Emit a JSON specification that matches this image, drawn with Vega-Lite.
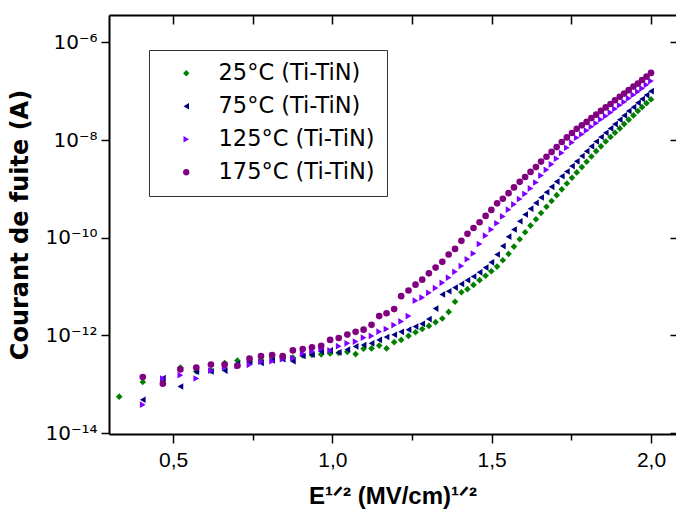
{
  "$schema": "https://vega.github.io/schema/vega-lite/v6.json",
  "width": 567,
  "height": 419,
  "autosize": {"type": "none"},
  "padding": {"left": 109, "top": 15, "right": 0, "bottom": 81},
  "config": {
    "view": {"stroke": null},
    "axis": {"grid": false, "domainColor": "black", "tickColor": "black", "labelColor": "black", "titleColor": "black", "domainWidth": 2, "tickWidth": 1.5},
    "legend": {"strokeColor": "#333333", "fillColor": "white", "padding": 12, "rowPadding": 10, "symbolOffset": 14, "labelOffset": 21, "labelFont": "DejaVu Sans", "labelFontSize": 22.5, "labelColor": "black", "symbolSize": 40, "strokeWidth": 1}
  },
  "data": {"values": [
    {"T":"25","x":0.331,"I":5.55e-14},{"T":"25","x":0.405,"I":1.11e-13},{"T":"25","x":0.468,"I":1.17e-13},{"T":"25","x":0.523,"I":2.20e-13},{"T":"25","x":0.573,"I":1.83e-13},{"T":"25","x":0.619,"I":1.90e-13},{"T":"25","x":0.662,"I":2.72e-13},{"T":"25","x":0.702,"I":3.03e-13},{"T":"25","x":0.740,"I":2.87e-13},{"T":"25","x":0.776,"I":3.13e-13},{"T":"25","x":0.811,"I":3.43e-13},{"T":"25","x":0.844,"I":3.40e-13},{"T":"25","x":0.876,"I":3.52e-13},{"T":"25","x":0.907,"I":3.88e-13},{"T":"25","x":0.936,"I":3.96e-13},{"T":"25","x":0.965,"I":4.09e-13},{"T":"25","x":0.993,"I":4.25e-13},{"T":"25","x":1.020,"I":4.36e-13},{"T":"25","x":1.047,"I":4.60e-13},{"T":"25","x":1.073,"I":4.13e-13},{"T":"25","x":1.098,"I":5.34e-13},{"T":"25","x":1.123,"I":5.40e-13},{"T":"25","x":1.147,"I":6.18e-13},{"T":"25","x":1.170,"I":5.40e-13},{"T":"25","x":1.194,"I":7.25e-13},{"T":"25","x":1.216,"I":8.07e-13},{"T":"25","x":1.239,"I":9.73e-13},{"T":"25","x":1.261,"I":1.16e-12},{"T":"25","x":1.282,"I":1.35e-12},{"T":"25","x":1.303,"I":1.56e-12},{"T":"25","x":1.324,"I":1.86e-12},{"T":"25","x":1.345,"I":2.21e-12},{"T":"25","x":1.365,"I":3.02e-12},{"T":"25","x":1.385,"I":4.88e-12},{"T":"25","x":1.405,"I":7.62e-12},{"T":"25","x":1.424,"I":8.83e-12},{"T":"25","x":1.443,"I":1.08e-11},{"T":"25","x":1.462,"I":1.35e-11},{"T":"25","x":1.481,"I":1.66e-11},{"T":"25","x":1.499,"I":2.05e-11},{"T":"25","x":1.517,"I":2.56e-11},{"T":"25","x":1.535,"I":3.45e-11},{"T":"25","x":1.553,"I":4.65e-11},{"T":"25","x":1.570,"I":6.56e-11},{"T":"25","x":1.588,"I":9.29e-11},{"T":"25","x":1.605,"I":1.29e-10},{"T":"25","x":1.622,"I":1.77e-10},{"T":"25","x":1.639,"I":2.38e-10},{"T":"25","x":1.655,"I":3.20e-10},{"T":"25","x":1.672,"I":4.31e-10},{"T":"25","x":1.688,"I":5.65e-10},{"T":"25","x":1.704,"I":7.43e-10},{"T":"25","x":1.720,"I":9.77e-10},{"T":"25","x":1.736,"I":1.29e-9},{"T":"25","x":1.752,"I":1.69e-9},{"T":"25","x":1.767,"I":2.17e-9},{"T":"25","x":1.783,"I":2.79e-9},{"T":"25","x":1.798,"I":3.58e-9},{"T":"25","x":1.813,"I":4.60e-9},{"T":"25","x":1.828,"I":5.91e-9},{"T":"25","x":1.843,"I":7.43e-9},{"T":"25","x":1.858,"I":9.34e-9},{"T":"25","x":1.873,"I":1.15e-8},{"T":"25","x":1.887,"I":1.41e-8},{"T":"25","x":1.902,"I":1.73e-8},{"T":"25","x":1.916,"I":2.12e-8},{"T":"25","x":1.930,"I":2.61e-8},{"T":"25","x":1.945,"I":3.19e-8},{"T":"25","x":1.959,"I":3.92e-8},{"T":"25","x":1.972,"I":4.71e-8},{"T":"25","x":1.986,"I":5.65e-8},{"T":"25","x":2.000,"I":6.79e-8},
    {"T":"75","x":0.405,"I":4.80e-14},{"T":"75","x":0.468,"I":1.33e-13},{"T":"75","x":0.523,"I":8.97e-14},{"T":"75","x":0.573,"I":1.80e-13},{"T":"75","x":0.619,"I":1.83e-13},{"T":"75","x":0.662,"I":1.90e-13},{"T":"75","x":0.702,"I":2.62e-13},{"T":"75","x":0.740,"I":2.87e-13},{"T":"75","x":0.776,"I":2.72e-13},{"T":"75","x":0.811,"I":3.08e-13},{"T":"75","x":0.844,"I":3.25e-13},{"T":"75","x":0.876,"I":2.96e-13},{"T":"75","x":0.907,"I":3.81e-13},{"T":"75","x":0.936,"I":4.02e-13},{"T":"75","x":0.965,"I":4.65e-13},{"T":"75","x":0.993,"I":4.91e-13},{"T":"75","x":1.020,"I":4.48e-13},{"T":"75","x":1.047,"I":5.12e-13},{"T":"75","x":1.073,"I":5.94e-13},{"T":"75","x":1.098,"I":6.34e-13},{"T":"75","x":1.123,"I":6.87e-13},{"T":"75","x":1.147,"I":8.07e-13},{"T":"75","x":1.170,"I":9.23e-13},{"T":"75","x":1.194,"I":1.03e-12},{"T":"75","x":1.216,"I":1.18e-12},{"T":"75","x":1.239,"I":1.31e-12},{"T":"75","x":1.261,"I":1.51e-12},{"T":"75","x":1.282,"I":1.72e-12},{"T":"75","x":1.303,"I":2.15e-12},{"T":"75","x":1.324,"I":3.53e-12},{"T":"75","x":1.345,"I":6.90e-12},{"T":"75","x":1.365,"I":8.00e-12},{"T":"75","x":1.385,"I":9.51e-12},{"T":"75","x":1.405,"I":1.13e-11},{"T":"75","x":1.424,"I":1.35e-11},{"T":"75","x":1.443,"I":1.60e-11},{"T":"75","x":1.462,"I":1.95e-11},{"T":"75","x":1.481,"I":2.44e-11},{"T":"75","x":1.499,"I":3.13e-11},{"T":"75","x":1.517,"I":4.53e-11},{"T":"75","x":1.535,"I":6.73e-11},{"T":"75","x":1.553,"I":1.05e-10},{"T":"75","x":1.570,"I":1.47e-10},{"T":"75","x":1.588,"I":2.17e-10},{"T":"75","x":1.605,"I":2.99e-10},{"T":"75","x":1.622,"I":3.93e-10},{"T":"75","x":1.639,"I":5.16e-10},{"T":"75","x":1.655,"I":6.64e-10},{"T":"75","x":1.672,"I":8.53e-10},{"T":"75","x":1.688,"I":1.10e-9},{"T":"75","x":1.704,"I":1.41e-9},{"T":"75","x":1.720,"I":1.81e-9},{"T":"75","x":1.736,"I":2.27e-9},{"T":"75","x":1.752,"I":2.92e-9},{"T":"75","x":1.767,"I":3.66e-9},{"T":"75","x":1.783,"I":4.71e-9},{"T":"75","x":1.798,"I":5.91e-9},{"T":"75","x":1.813,"I":7.43e-9},{"T":"75","x":1.828,"I":9.34e-9},{"T":"75","x":1.843,"I":1.15e-8},{"T":"75","x":1.858,"I":1.41e-8},{"T":"75","x":1.873,"I":1.73e-8},{"T":"75","x":1.887,"I":2.12e-8},{"T":"75","x":1.902,"I":2.61e-8},{"T":"75","x":1.916,"I":3.19e-8},{"T":"75","x":1.930,"I":3.92e-8},{"T":"75","x":1.945,"I":4.71e-8},{"T":"75","x":1.959,"I":5.77e-8},{"T":"75","x":1.972,"I":6.93e-8},{"T":"75","x":1.986,"I":8.32e-8},{"T":"75","x":2.000,"I":1.00e-7},
    {"T":"125","x":0.405,"I":3.81e-14},{"T":"125","x":0.468,"I":1.31e-13},{"T":"125","x":0.523,"I":1.53e-13},{"T":"125","x":0.573,"I":1.31e-13},{"T":"125","x":0.619,"I":1.90e-13},{"T":"125","x":0.662,"I":2.23e-13},{"T":"125","x":0.702,"I":2.36e-13},{"T":"125","x":0.740,"I":2.49e-13},{"T":"125","x":0.776,"I":2.87e-13},{"T":"125","x":0.811,"I":2.96e-13},{"T":"125","x":0.844,"I":3.25e-13},{"T":"125","x":0.876,"I":3.43e-13},{"T":"125","x":0.907,"I":4.25e-13},{"T":"125","x":0.936,"I":4.72e-13},{"T":"125","x":0.965,"I":5.26e-13},{"T":"125","x":0.993,"I":4.91e-13},{"T":"125","x":1.020,"I":6.01e-13},{"T":"125","x":1.047,"I":6.87e-13},{"T":"125","x":1.073,"I":7.45e-13},{"T":"125","x":1.098,"I":8.98e-13},{"T":"125","x":1.123,"I":9.73e-13},{"T":"125","x":1.147,"I":1.19e-12},{"T":"125","x":1.170,"I":1.35e-12},{"T":"125","x":1.194,"I":1.62e-12},{"T":"125","x":1.216,"I":1.93e-12},{"T":"125","x":1.239,"I":2.48e-12},{"T":"125","x":1.261,"I":5.13e-12},{"T":"125","x":1.282,"I":5.94e-12},{"T":"125","x":1.303,"I":7.43e-12},{"T":"125","x":1.324,"I":9.29e-12},{"T":"125","x":1.345,"I":1.19e-11},{"T":"125","x":1.365,"I":1.52e-11},{"T":"125","x":1.385,"I":2.00e-11},{"T":"125","x":1.405,"I":2.63e-11},{"T":"125","x":1.424,"I":3.62e-11},{"T":"125","x":1.443,"I":4.75e-11},{"T":"125","x":1.462,"I":7.43e-11},{"T":"125","x":1.481,"I":1.10e-10},{"T":"125","x":1.499,"I":1.47e-10},{"T":"125","x":1.517,"I":1.98e-10},{"T":"125","x":1.535,"I":2.73e-10},{"T":"125","x":1.553,"I":3.75e-10},{"T":"125","x":1.570,"I":4.82e-10},{"T":"125","x":1.588,"I":6.19e-10},{"T":"125","x":1.605,"I":7.89e-10},{"T":"125","x":1.622,"I":1.02e-9},{"T":"125","x":1.639,"I":1.35e-9},{"T":"125","x":1.655,"I":1.87e-9},{"T":"125","x":1.672,"I":2.45e-9},{"T":"125","x":1.688,"I":3.18e-9},{"T":"125","x":1.704,"I":4.15e-9},{"T":"125","x":1.720,"I":5.41e-9},{"T":"125","x":1.736,"I":6.95e-9},{"T":"125","x":1.752,"I":8.85e-9},{"T":"125","x":1.767,"I":1.11e-8},{"T":"125","x":1.783,"I":1.31e-8},{"T":"125","x":1.798,"I":1.57e-8},{"T":"125","x":1.813,"I":1.87e-8},{"T":"125","x":1.828,"I":2.20e-8},{"T":"125","x":1.843,"I":2.63e-8},{"T":"125","x":1.858,"I":3.09e-8},{"T":"125","x":1.873,"I":3.64e-8},{"T":"125","x":1.887,"I":4.34e-8},{"T":"125","x":1.902,"I":5.15e-8},{"T":"125","x":1.916,"I":6.01e-8},{"T":"125","x":1.930,"I":7.10e-8},{"T":"125","x":1.945,"I":8.39e-8},{"T":"125","x":1.959,"I":9.72e-8},{"T":"125","x":1.972,"I":1.14e-7},{"T":"125","x":1.986,"I":1.35e-7},{"T":"125","x":2.000,"I":1.61e-7},
    {"T":"175","x":0.405,"I":1.40e-13},{"T":"175","x":0.468,"I":1.02e-13},{"T":"175","x":0.523,"I":2.01e-13},{"T":"175","x":0.573,"I":2.20e-13},{"T":"175","x":0.619,"I":2.52e-13},{"T":"175","x":0.662,"I":2.52e-13},{"T":"175","x":0.702,"I":2.39e-13},{"T":"175","x":0.740,"I":3.33e-13},{"T":"175","x":0.776,"I":3.75e-13},{"T":"175","x":0.811,"I":3.96e-13},{"T":"175","x":0.844,"I":3.75e-13},{"T":"175","x":0.876,"I":4.91e-13},{"T":"175","x":0.907,"I":5.26e-13},{"T":"175","x":0.936,"I":5.70e-13},{"T":"175","x":0.965,"I":6.08e-13},{"T":"175","x":0.993,"I":8.07e-13},{"T":"175","x":1.020,"I":8.84e-13},{"T":"175","x":1.047,"I":1.035e-12},{"T":"175","x":1.073,"I":1.18e-12},{"T":"175","x":1.098,"I":1.31e-12},{"T":"175","x":1.123,"I":1.64e-12},{"T":"175","x":1.147,"I":2.48e-12},{"T":"175","x":1.170,"I":2.83e-12},{"T":"175","x":1.194,"I":3.45e-12},{"T":"175","x":1.216,"I":6.34e-12},{"T":"175","x":1.239,"I":8.28e-12},{"T":"175","x":1.261,"I":1.09e-11},{"T":"175","x":1.282,"I":1.38e-11},{"T":"175","x":1.303,"I":1.86e-11},{"T":"175","x":1.324,"I":2.44e-11},{"T":"175","x":1.345,"I":3.20e-11},{"T":"175","x":1.365,"I":4.53e-11},{"T":"175","x":1.385,"I":5.89e-11},{"T":"175","x":1.405,"I":8.61e-11},{"T":"175","x":1.424,"I":1.20e-10},{"T":"175","x":1.443,"I":1.58e-10},{"T":"175","x":1.462,"I":2.07e-10},{"T":"175","x":1.481,"I":2.79e-10},{"T":"175","x":1.499,"I":3.70e-10},{"T":"175","x":1.517,"I":5.05e-10},{"T":"175","x":1.535,"I":6.28e-10},{"T":"175","x":1.553,"I":8.15e-10},{"T":"175","x":1.570,"I":1.07e-9},{"T":"175","x":1.588,"I":1.39e-9},{"T":"175","x":1.605,"I":1.75e-9},{"T":"175","x":1.622,"I":2.22e-9},{"T":"175","x":1.639,"I":2.79e-9},{"T":"175","x":1.655,"I":3.62e-9},{"T":"175","x":1.672,"I":4.54e-9},{"T":"175","x":1.688,"I":5.70e-9},{"T":"175","x":1.704,"I":7.16e-9},{"T":"175","x":1.720,"I":9.12e-9},{"T":"175","x":1.736,"I":1.13e-8},{"T":"175","x":1.752,"I":1.39e-8},{"T":"175","x":1.767,"I":1.70e-8},{"T":"175","x":1.783,"I":2.00e-8},{"T":"175","x":1.798,"I":2.35e-8},{"T":"175","x":1.813,"I":2.81e-8},{"T":"175","x":1.828,"I":3.30e-8},{"T":"175","x":1.843,"I":3.95e-8},{"T":"175","x":1.858,"I":4.65e-8},{"T":"175","x":1.873,"I":5.47e-8},{"T":"175","x":1.887,"I":6.51e-8},{"T":"175","x":1.902,"I":7.67e-8},{"T":"175","x":1.916,"I":8.92e-8},{"T":"175","x":1.930,"I":1.05e-7},{"T":"175","x":1.945,"I":1.24e-7},{"T":"175","x":1.959,"I":1.43e-7},{"T":"175","x":1.972,"I":1.69e-7},{"T":"175","x":1.986,"I":1.98e-7},{"T":"175","x":2.000,"I":2.37e-7}
  ]},
  "layer": [
    {
      "mark": {"type": "point", "filled": true, "size": 44, "opacity": 1},
      "encoding": {
        "x": {"field": "x", "type": "quantitative",
          "scale": {"domain": [0.299, 2.0785], "nice": false, "zero": false},
          "axis": {"orient": "bottom", "values": [0.5, 0.75, 1, 1.25, 1.5, 1.75, 2],
            "labelExpr": "datum.value % 0.5 === 0 ? replace(format(datum.value, '.1f'), '.', ',') : ''",
            "tickSize": {"condition": {"test": "datum.value % 0.5 === 0", "value": 9}, "value": 6},
            "labelFont": "Liberation Sans", "labelFontSize": 21, "labelPadding": 6, "labelFlush": false,
            "title": "E¹ᐟ² (MV/cm)¹ᐟ²", "titleFont": "Liberation Sans", "titleFontSize": 24, "titleFontWeight": "bold", "titlePadding": 14}},
        "y": {"field": "I", "type": "quantitative",
          "scale": {"type": "log", "domain": [9.55e-15, 3.63e-6], "nice": false},
          "axis": {"orient": "left", "values": [1e-14, 1e-12, 1e-10, 1e-8, 1e-6], "tickSize": 8,
            "labelExpr": "datum.value < 5e-14 ? '10⁻¹⁴' : datum.value < 5e-12 ? '10⁻¹²' : datum.value < 5e-10 ? '10⁻¹⁰' : datum.value < 5e-8 ? '10⁻⁸' : '10⁻⁶'",
            "labelFont": "DejaVu Sans", "labelFontSize": 20, "labelPadding": 4, "labelFlush": false,
            "title": "Courant de fuite (A)", "titleFont": "DejaVu Sans", "titleFontSize": 24, "titleFontWeight": "bold", "titlePadding": 12}},
        "color": {"field": "T", "type": "nominal",
          "scale": {"domain": ["25", "75", "125", "175"], "range": ["#008000", "#000080", "#8000ff", "#800080"]},
          "legend": {"title": null, "orient": "none", "legendX": 40, "legendY": 35, "labelExpr": "datum.label + '°C (Ti-TiN)'"}},
        "shape": {"field": "T", "type": "nominal",
          "scale": {"domain": ["25", "75", "125", "175"], "range": ["diamond", "triangle-left", "triangle-right", "circle"]},
          "legend": {"title": null, "orient": "none", "legendX": 40, "legendY": 35, "labelExpr": "datum.label + '°C (Ti-TiN)'"}}
      }
    },
    {
      "mark": {"type": "point", "opacity": 0},
      "encoding": {
        "x": {"field": "x", "type": "quantitative",
          "axis": {"orient": "top", "values": [0.5, 0.75, 1, 1.25, 1.5, 1.75, 2], "labels": false, "tickSize": -9, "title": null}},
        "y": {"field": "I", "type": "quantitative",
          "axis": {"orient": "right", "values": [1e-14, 1e-12, 1e-10, 1e-8, 1e-6], "labels": false, "domain": false, "tickSize": -6, "title": null}}
      }
    }
  ],
  "resolve": {"axis": {"x": "independent", "y": "independent"}}
}
